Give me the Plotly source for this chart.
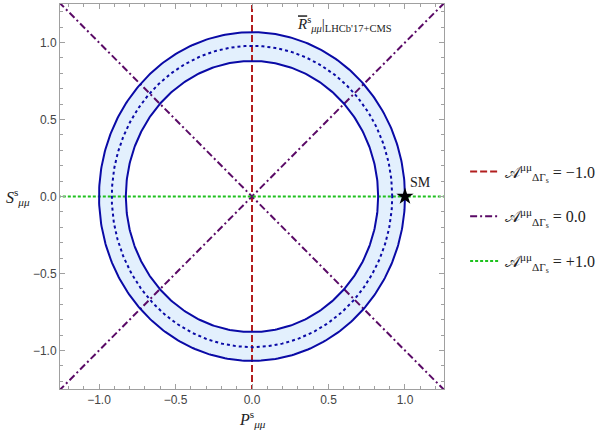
import numpy as np
import plotly.graph_objects as go

# ---- data ----
R_central = 0.84        # central value of R-bar ratio
R_err = 0.16            # 1 sigma
y_s = 0.065             # width difference parameter
A_values = [-1.0, 0.0, 1.0]
A_labels = ["−1.0", "0.0", "+1.0"]
sm_point = (1.0, 0.0)
axis_range = [-1.255, 1.255]
yaxis_range = [-1.25, 1.25]
tick_vals = [-1.0, -0.5, 0.0, 0.5, 1.0]
line_extent = [-1.4, 1.4]

blue = "#0a0aa6"
fill_blue = "#e3f0fd"
red = "#b21e1e"
purple = "#5a0a66"
green = "#1ec21e"

ratio = (1 - y_s) / (1 + y_s)


def ellipse(R, reverse=False):
    t = np.linspace(0, 2 * np.pi, 400)
    if reverse:
        t = t[::-1]
    a = np.sqrt(R)
    b = np.sqrt(R / ratio)
    return a * np.cos(t), b * np.sin(t)


R_hi = R_central + R_err
R_lo = R_central - R_err
xo, yo = ellipse(R_hi)
xi, yi = ellipse(R_lo, reverse=True)
xc, yc = ellipse(R_central)

fig = go.Figure()
# band fill
fig.add_trace(go.Scatter(
    x=np.concatenate([xo, [None], xi]), y=np.concatenate([yo, [None], yi]),
    mode="lines", fill="toself", fillcolor=fill_blue, line=dict(width=0),
    showlegend=False, hoverinfo="skip"))

legend_name = "𝒜<sup>μμ</sup><sub>ΔΓ<sub>s</sub></sub> = {}"
# A = -1 : P = 0 (vertical)
fig.add_trace(go.Scatter(x=[0, 0], y=line_extent, mode="lines",
                         line=dict(color=red, width=2, dash="7px,3px"),
                         name=legend_name.format(A_labels[0]), legendgroup="a"))
# A = 0 : diagonals
fig.add_trace(go.Scatter(x=[line_extent[0], line_extent[1], None, line_extent[0], line_extent[1]],
                         y=[line_extent[0], line_extent[1], None, line_extent[1], line_extent[0]],
                         mode="lines", line=dict(color=purple, width=2, dash="7px,3px,2px,3px"),
                         name=legend_name.format(A_labels[1]), legendgroup="b"))
# A = +1 : S = 0 (horizontal)
fig.add_trace(go.Scatter(x=line_extent, y=[0, 0], mode="lines",
                         line=dict(color=green, width=2, dash="3px,2px"),
                         name=legend_name.format(A_labels[2]), legendgroup="c"))

# ellipse boundaries
for xx, yy, dash in [(xo, yo, "solid"), (xi, yi, "solid"), (xc, yc, "3px,3px")]:
    fig.add_trace(go.Scatter(x=xx, y=yy, mode="lines", line=dict(color=blue, width=2, dash=dash),
                             showlegend=False, hoverinfo="skip"))

# SM point
fig.add_trace(go.Scatter(x=[sm_point[0]], y=[sm_point[1]], mode="markers",
                         marker=dict(symbol="star", size=13, color="black"),
                         showlegend=False))

serif = "Liberation Serif"
fig.add_annotation(x=sm_point[0] + 0.02, y=sm_point[1] + 0.03, text="SM", showarrow=False,
                   xanchor="left", yanchor="bottom", font=dict(family=serif, size=14, color="#222"))
fig.add_annotation(x=0.28, y=1.12,
                   text="<span style='text-decoration:overline'><i>R</i></span><sup>s</sup><sub><i>μμ</i></sub>|<sub>LHCb'17+CMS</sub>",
                   showarrow=False, xanchor="left", yanchor="middle",
                   font=dict(family=serif, size=15, color="#222"))
fig.add_annotation(xref="paper", yref="paper", x=0.5, y=-0.045,
                   text="<i>P</i><sup>s</sup><sub><i>μμ</i></sub>", showarrow=False,
                   xanchor="center", yanchor="top", font=dict(family=serif, size=16, color="#222"))
fig.add_annotation(xref="paper", yref="y", x=-0.11, y=0,
                   text="<i>S</i><sup>s</sup><sub><i>μμ</i></sub>", showarrow=False,
                   xanchor="center", yanchor="middle", font=dict(family=serif, size=16, color="#222"))

axis_common = dict(
    showgrid=False, zeroline=False, showline=True, linecolor="#a0a0a0", linewidth=1,
    mirror="ticks", ticks="inside", ticklen=5, tickcolor="#a0a0a0",
    tickvals=tick_vals, tickformat=".1f",
    tickfont=dict(family="Liberation Sans", size=12, color="#444"),
    minor=dict(ticks="inside", dtick=0.1, ticklen=3, tickcolor="#a0a0a0"),
)
fig.update_xaxes(range=axis_range, **axis_common)
fig.update_yaxes(range=yaxis_range, **axis_common)

fig.update_layout(
    width=616, height=436,
    margin=dict(l=60, r=172, t=4, b=47),
    plot_bgcolor="white", paper_bgcolor="white",
    legend=dict(x=1.055, y=0.448, xanchor="left", yanchor="middle",
                font=dict(family=serif, size=16, color="#222"),
                tracegroupgap=21, bgcolor="rgba(0,0,0,0)"),
)

fig.write_html("out.html", config={"displayModeBar": False},
               post_script="document.body.style.margin='0';document.body.style.padding='0';")
